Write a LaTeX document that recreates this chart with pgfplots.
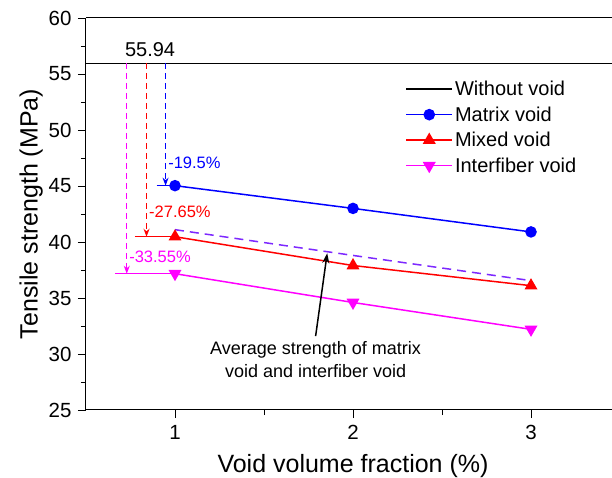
\documentclass[border=0pt]{standalone}
\usepackage{fontspec}
\setmainfont{Liberation Sans}
\usepackage{pgfplots}
\pgfplotsset{compat=1.18}
\usetikzlibrary{arrows.meta}

\definecolor{avgviolet}{RGB}{125,40,255}
\definecolor{pinkline}{RGB}{255,0,255}
\definecolor{blueline}{RGB}{0,0,255}
\definecolor{redline}{RGB}{255,0,0}

\begin{document}
\begin{tikzpicture}
\begin{axis}[
  at={(0,0)}, anchor=south west,
  scale only axis,
  width=534pt, height=392pt,
  xmin=0.5, xmax=3.5,
  ymin=25, ymax=60,
  xtick={1,2,3},
  minor xtick={1.5,2.5},
  ytick={25,30,...,60},
  minor ytick={27.5,32.5,...,57.5},
  tick align=outside,
  major tick length=8pt,
  minor tick length=5pt,
  tick style={black, line width=0.9pt},
  axis x line*=bottom,
  axis y line*=left,
  axis line style={line width=1pt, -},
  /pgf/number format/assume math mode=true,
  ticklabel style={font=\fontsize{20.5}{24}\selectfont},
  xticklabel style={yshift=-4pt},
  yticklabel style={xshift=-3pt},
  xlabel={Void volume fraction (\%)},
  ylabel={Tensile strength (MPa)},
  label style={font=\fontsize{25}{29}\selectfont},
  xlabel style={yshift=-7pt},
  ylabel style={yshift=-1pt},
  legend cell align=left,
  legend style={draw=none, fill=none,
    at={(rel axis cs:0.596,0.847)}, anchor=north west,
    font=\fontsize{20}{24}\selectfont,
    row sep=5.5pt, inner sep=1pt},
  legend image code/.code={
    \pgfsetlinewidth{1.6pt}
    \draw[mark repeat=2, mark phase=2, line width=1.6pt] plot coordinates {(0pt,0pt) (23pt,0pt) (46pt,0pt)};
  },
  clip=false,
]
% reference strength without voids
\addplot[black, line width=1.5pt] coordinates {(0.5,55.94) (3.5,55.94)};
\addlegendentry{Without void}
\addplot[blueline, line width=1.5pt, mark=*, mark size=5pt] coordinates {(1,45.03) (2,43.0) (3,40.9)};
\addlegendentry{Matrix void}
\addplot[redline, line width=1.5pt, mark=triangle*, mark size=6pt] coordinates {(1,40.47) (2,37.9) (3,36.1)};
\addlegendentry{Mixed void}
\addplot[pinkline, line width=1.5pt, mark=triangle*, mark size=6pt, mark options={rotate=180}] coordinates {(1,37.17) (2,34.6) (3,32.2)};
\addlegendentry{Interfiber void}
% mean of matrix and interfiber void strengths
\addplot[avgviolet, line width=1.5pt, dash pattern=on 9pt off 6pt, forget plot] coordinates {(1,41.1) (2,38.8) (3,36.55)};

% top frame line
\draw[line width=1pt] (rel axis cs:0,1) -- (rel axis cs:1,1);

% reductions relative to the void-free strength
\addplot[blueline, line width=1.2pt, forget plot] coordinates {(0.897,45.03) (1,45.03)};
\addplot[redline, line width=1.2pt, forget plot] coordinates {(0.775,40.47) (1,40.47)};
\addplot[pinkline, line width=1.2pt, forget plot] coordinates {(0.663,37.17) (1,37.17)};
\draw[blueline, line width=1.2pt, dash pattern=on 6pt off 4pt, -{Stealth[length=8pt,width=6pt]}] (axis cs:0.947,55.94) -- (axis cs:0.947,45.03);
\draw[redline, line width=1.2pt, dash pattern=on 6pt off 4pt, -{Stealth[length=8pt,width=6pt]}] (axis cs:0.84,55.94) -- (axis cs:0.84,40.47);
\draw[pinkline, line width=1.2pt, dash pattern=on 6pt off 4pt, -{Stealth[length=8pt,width=6pt]}] (axis cs:0.729,55.94) -- (axis cs:0.729,37.17);

\node[font=\fontsize{20}{24}\selectfont] at (axis cs:0.86,57.14) {55.94};
\node[blueline, anchor=west, inner sep=0pt, font=\fontsize{16.5}{20}\selectfont] at (axis cs:0.961,47.05) {-19.5\%};
\node[redline, anchor=west, inner sep=0pt, font=\fontsize{16.5}{20}\selectfont] at (axis cs:0.854,42.7) {-27.65\%};
\node[pinkline, anchor=west, inner sep=0pt, font=\fontsize{16.5}{20}\selectfont] at (axis cs:0.742,38.66) {-33.55\%};

% pointer to the averaged curve
\draw[black, line width=1.5pt, -{Stealth[length=10pt,width=7pt]}] (axis cs:1.79,31.6) -- (axis cs:1.855,39.0);
\node[align=center, font=\fontsize{18}{23}\selectfont] at (axis cs:1.79,29.5) {Average strength of matrix\\void and interfiber void};
\end{axis}
\pgfresetboundingbox
\useasboundingbox (-86pt,-68pt) rectangle (526pt,410pt);
\end{tikzpicture}
\end{document}
